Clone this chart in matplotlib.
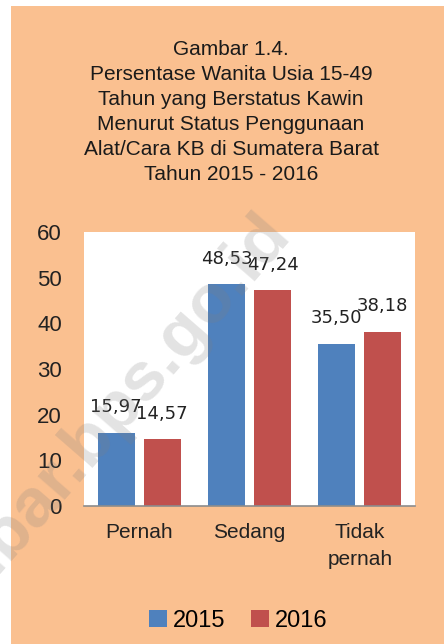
import matplotlib
matplotlib.use("Agg")
import matplotlib.pyplot as plt
from matplotlib.patches import Rectangle, Patch
import numpy as np

# data
categories = ["Pernah", "Sedang", "Tidak\npernah"]
years = ["2015", "2016"]
val_2015 = [15.97, 48.53, 35.50]
val_2016 = [14.57, 47.24, 38.18]
yticks = [0, 10, 20, 30, 40, 50, 60]

title = ("Gambar 1.4.\nPersentase Wanita Usia 15-49\nTahun yang Berstatus Kawin\n"
         "Menurut Status Penggunaan\nAlat/Cara KB di Sumatera Barat\nTahun 2015 - 2016")

BG = "#FAC090"
BLUE = "#4F81BD"
RED = "#C0504D"

plt.rcParams["font.family"] = ["Liberation Sans", "DejaVu Sans"]

fig = plt.figure(figsize=(4.44, 6.44), dpi=100, facecolor="white")
fig.patches.append(Rectangle((11 / 444, 0), 1, 638 / 644, transform=fig.transFigure,
                             facecolor=BG, edgecolor="none", zorder=-1))

ax = fig.add_axes([84 / 444, 1 - 506 / 644, 331 / 444, 274 / 644])
ax.set_facecolor("white")

x = np.arange(len(categories))
w = 0.335
off = 0.208
b1 = ax.bar(x - off, val_2015, w, color=BLUE, label=years[0])
b2 = ax.bar(x + off, val_2016, w, color=RED, label=years[1])

for bars, vals in [(b1, val_2015), (b2, val_2016)]:
    for rect, v in zip(bars, vals):
        ax.annotate(f"{v:.2f}".replace(".", ","),
                    (rect.get_x() + rect.get_width() / 2, rect.get_height()),
                    xytext=(0, 18.5), textcoords="offset points",
                    ha="center", va="center", fontsize=13,
                    family="DejaVu Sans", color="#222222")

ax.set_xlim(-0.5, 2.5)
ax.set_ylim(0, 60)
ax.set_yticks(yticks)
ax.set_xticks(x)
ax.set_xticklabels(categories, fontsize=15, linespacing=1.55, color="#222222")
ax.tick_params(axis="y", length=0, pad=16, labelsize=16, labelcolor="#222222")
ax.tick_params(axis="x", length=0, pad=12)
for s in ["left", "right", "top"]:
    ax.spines[s].set_visible(False)
ax.spines["bottom"].set_color("#8C8C8C")
ax.spines["bottom"].set_linewidth(1.2)

fig.text(231 / 444, 1 - 112 / 644, title, ha="center", va="center",
         fontsize=15, linespacing=1.4, color="#1a1a1a")

handles = [Patch(facecolor=BLUE), Patch(facecolor=RED)]
fig.legend(handles, years, loc="center", bbox_to_anchor=(238 / 444, 1 - 621 / 644),
           ncol=2, frameon=False, fontsize=17, handlelength=0.75, handleheight=0.75,
           handletextpad=0.25, columnspacing=1.1)

# watermark
fig.text(292 / 444, 1 - 236 / 644, "sumbar.bps.go.id", rotation=49,
         rotation_mode="anchor", ha="right", va="baseline",
         fontsize=50, fontweight="bold", color="#808080", alpha=0.22, zorder=10)

fig.savefig("out.png", dpi=100, facecolor=fig.get_facecolor())
